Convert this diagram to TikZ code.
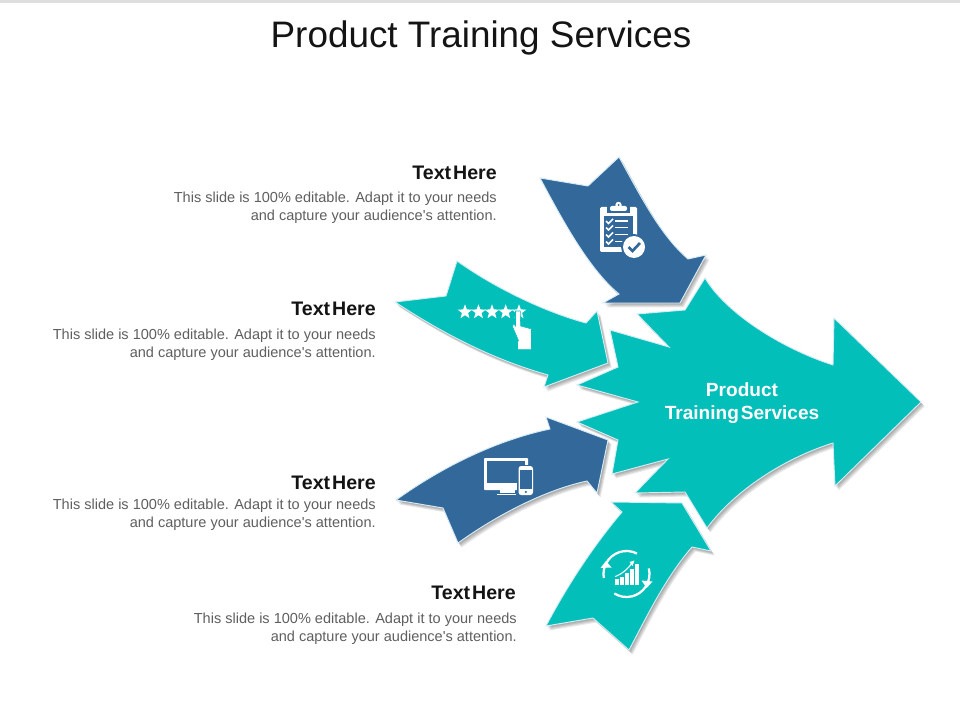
\documentclass[tikz,border=0pt]{standalone}
\usepackage{fontspec}
\setmainfont{Liberation Sans}
\newfontfamily\plainfont{Liberation Sans}
\newfontfamily\tightbold[WordSpace=0.35]{Liberation Sans Bold}
\usetikzlibrary{shapes.geometric}
\definecolor{tealc}{HTML}{02BFBA}
\definecolor{bluec}{HTML}{33689B}
\definecolor{edgec}{HTML}{D5ECF4}
\definecolor{bodyc}{HTML}{5F5F5F}
\tikzset{
  headtxt/.style={anchor=east,inner sep=0pt,font=\tightbold\fontsize{14.7}{16}\selectfont,text=black!92},
  bodytxt/.style={anchor=north east,inner sep=0pt,align=right,text=bodyc,font=\plainfont\fontsize{10.9}{13.5}\selectfont},
  ico/.style={fill=white,draw=none},
  star5/.style={star,star points=5,star point ratio=2.4,fill=white,inner sep=0pt,minimum size=11.5pt}
}
\newcommand{\softarrow}[2]{%
  \foreach \d in {4.5,3.5,2.5,1.5}{
    \fill[black,opacity=.09,xshift=\d*0.6pt,yshift=-\d*0.75pt] #2;
  }
  \fill[#1,draw=edgec,line width=.7pt,line join=miter] #2;
}
\newcommand{\bodylines}{This slide is 100\% editable. Adapt it to your needs\\and capture your audience's attention.}
\begin{document}
\begin{tikzpicture}[x=.75pt,y=-.75pt]
\useasboundingbox (0,0) rectangle (960,720);
\fill[white] (0,0) rectangle (960,720);
\fill[black!13] (0,0) rectangle (960,3);

% main arrow
\softarrow{tealc}{(705,278) .. controls (725,312) and (780,348) .. (833,365) -- (834,318) -- (921,402) -- (835,486) -- (833,443) .. controls (785,458) and (735,490) .. (707,528) -- (685,492) -- (635,493) -- (668,459) -- (612,474) -- (618,440) -- (577,422) -- (638,402) -- (577,385) -- (618,367) -- (610,330) -- (669,347) -- (637,314) -- (685,310) -- cycle}
% top arrow
\softarrow{bluec}{(540,178) -- (588,186) -- (619,157) .. controls (640,195) and (660,235) .. (688,259) -- (706,255) -- (680,303) -- (603,303) -- (619,294) .. controls (590,270) and (565,225) .. cycle}
% second arrow
\softarrow{tealc}{(395,302) -- (446,296) -- (457,261) .. controls (495,288) and (545,312) .. (586,323) -- (597,311) -- (608,363) -- (544,387) -- (548,375) .. controls (495,360) and (445,335) .. cycle}
% third arrow
\softarrow{bluec}{(396,500) .. controls (445,465) and (498,440) .. (550,429) -- (546,417) -- (608,440) -- (597,493) -- (587,481) .. controls (545,490) and (497,515) .. (458,543) -- (443,508) -- cycle}
% fourth arrow
\softarrow{tealc}{(611,502) -- (622,512) .. controls (590,550) and (565,590) .. (546,626) -- (593,618) -- (629,650) .. controls (645,620) and (665,578) .. (692,547) -- (711,551) -- (682,503) -- cycle}

% clipboard icon
\fill[ico,rounded corners=1pt] (600,207) rectangle (637,252);
\fill[bluec] (604,216) rectangle (633,247);
\fill[bluec] (607,204) rectangle (630,213);
\fill[ico,rounded corners=1.5pt] (610,206) rectangle (627,211);
\fill[ico] (618.5,205) circle (3.2);
\fill[bluec] (618.5,205) circle (1);
\foreach \yy in {221,227.5,234.5,241.5}{
  \draw[white,line width=1.1pt] (606,\yy) -- (608.5,\yy+2.5) -- (613,\yy-2);
  \draw[white,line width=.9pt] (615,\yy) -- (628,\yy);
}
\fill[bluec] (634,247) circle (13);
\fill[white] (634,247) circle (11);
\draw[bluec,line width=2pt] (628.5,247) -- (632.5,251) -- (640,243);

% stars + hand icon
\node[star5] (s1) at (465,312) {};
\node[star5] (s2) at (478.5,312) {};
\node[star5] (s3) at (492,312) {};
\node[star5] (s4) at (505.7,312) {};
\node[star5] (s5) at (519,312) {};
\fill[ico,draw=tealc,line width=.4pt] (515.5,311) -- (520.3,311) -- (520.6,326) -- (531.5,329) -- (531.5,349.7) -- (517.5,349.7) -- (517.5,342) -- (518.5,340.5) -- (512.3,326) -- (514,324) -- (515.5,326) -- cycle;

% devices icon
\fill[ico,rounded corners=.7pt] (484,458) rectangle (528,490);
\fill[bluec] (486.7,461) rectangle (525,483);
\fill[ico] (500,490) rectangle (515,493.2);
\fill[ico] (497,494) rectangle (516,495.3);
\fill[bluec,rounded corners=2pt] (517,465) rectangle (534,496.5);
\fill[ico,rounded corners=2pt] (518.5,466) rectangle (533,495);
\fill[bluec] (520,470) rectangle (531.5,489);
\fill[bluec] (525.8,491.9) circle (1.2);

% cycle + chart icon
\draw[white,line width=1.7pt] (626.5,574) ++(122:23) arc[start angle=122,end angle=-14,radius=23];
\draw[white,line width=1.7pt] (626.5,574) ++(-63:23) arc[start angle=-63,end angle=-190,radius=23];
\fill[ico] (646.7,588) -- (641.5,580.5) -- (652.5,581.5) -- cycle;
\fill[ico] (606,561) -- (600.5,568) -- (611.5,567.5) -- cycle;
\foreach \xa/\xb/\ya in {615/618.8/579.3,620/623.8/576.7,625/628.8/573.3,630/633.8/569,635/639.3/564.3}{
  \fill[ico] (\xa,\ya) rectangle (\xb,584.5);
}
\draw[white,line width=.8pt] (615,576.7) .. controls (622,574) and (628,569) .. (632,563);
\fill[ico] (634.5,560.5) -- (629.5,562) -- (632.5,566) -- cycle;

% texts
\node[font=\plainfont\fontsize{27.65}{30}\selectfont,text=black!92,inner sep=0pt] (title) at (481,37.5) {Product Training Services};
\node[font=\tightbold\fontsize{14.3}{17.25}\selectfont,text=white,align=center,inner sep=0pt] (maintxt) at (742,403) {Product\\Training Services};

\node[headtxt] (h1) at (497,172.5) {Text Here};
\node[bodytxt] (b1) at (497,191.7) {\bodylines};
\node[headtxt] (h2) at (376,308.5) {Text Here};
\node[bodytxt] (b2) at (376,328.7) {\bodylines};
\node[headtxt] (h3) at (376,482.5) {Text Here};
\node[bodytxt] (b3) at (376,498.7) {\bodylines};
\node[headtxt] (h4) at (516,592.5) {Text Here};
\node[bodytxt] (b4) at (517,612.7) {\bodylines};
\end{tikzpicture}
\end{document}
